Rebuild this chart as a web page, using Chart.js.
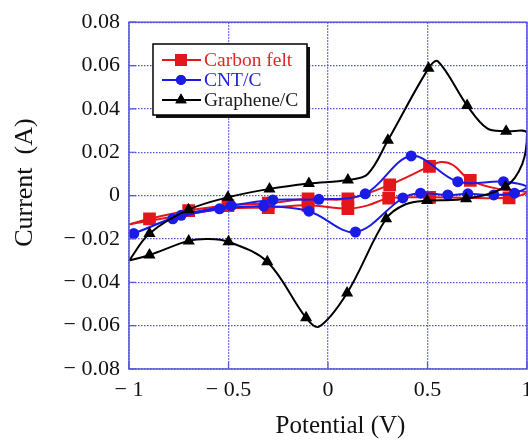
<!DOCTYPE html>
<html lang="en">
<head>
  <meta charset="UTF-8" />
  <title>CV curves</title>
  <script src="https://cdn.jsdelivr.net/npm/chart.js"></script>
  <style>
    html, body {
      margin: 0;
      padding: 0;
      background: #fff;
      overflow: hidden;
    }
    #wrap {
      width: 560px;
      height: 441px;
    }
  </style>
</head>
<body>
  <div id="wrap"><canvas id="cv" width="560" height="441"></canvas></div>

  <script>
    // axis ticks
    const xTicks = [-1, -0.5, 0, 0.5, 1];
    const yTicks = [-0.08, -0.06, -0.04, -0.02, 0, 0.02, 0.04, 0.06, 0.08];

    const seriesNames = ['Carbon felt', 'CNT/C', 'Graphene/C'];

    // Carbon felt loop (1 = marker drawn)
    const feltX = [-1.0, -0.897, -0.70, -0.503, -0.30, -0.10, 0.10, 0.31, 0.51, 0.57, 0.63, 0.715, 0.86, 1.0,
                   0.91, 0.51, 0.305, 0.20, 0.10, -0.10, -0.30, -0.50, -0.70, -1.0];
    const feltY = [-0.0133, -0.0107, -0.0069, -0.0046, -0.0035, -0.0015, -0.0015, 0.0050, 0.0135, 0.0155, 0.0140, 0.0070, 0.0030, 0.0015,
                   -0.0010, -0.0008, -0.0012, -0.0045, -0.0060, -0.0045, -0.0055, -0.0060, -0.0085, -0.0133];
    const feltMark = [0, 1, 1, 1, 1, 1, 1, 1, 1, 0, 0, 1, 0, 0,
                      1, 1, 1, 0, 1, 1, 1, 0, 0, 0];

    // CNT/C loop
    const cntX = [-0.976, -0.738, -0.486, -0.277, -0.046, 0.187, 0.418, 0.652, 0.882, 1.0,
                  0.937, 0.833, 0.703, 0.602, 0.465, 0.376, 0.138, -0.096, -0.323, -0.545, -0.78, -0.976];
    const cntY = [-0.0175, -0.0091, -0.0046, -0.0020, -0.0017, 0.0008, 0.0183, 0.0064, 0.0064, 0.0040,
                  0.0011, 0.0003, 0.0008, 0.0003, 0.0011, -0.0011, -0.0168, -0.0072, -0.0049, -0.0061, -0.0107, -0.0175];
    const cntMark = [1, 1, 1, 1, 1, 1, 1, 1, 1, 0,
                     1, 1, 1, 1, 1, 1, 1, 1, 1, 1, 1, 0];

    // Graphene/C loop
    const grapX = [-1.0, -0.897, -0.70, -0.60, -0.50, -0.305, -0.11, -0.046, 0.096, 0.292, 0.39, 0.498, 0.694, 0.892, 0.976, 1.0,
                   0.895, 0.80, 0.699, 0.552, 0.505, 0.301, 0.20, 0.10, -0.096, -0.294, -0.503, -0.701, -0.897, -1.0];
    const grapY = [-0.0300, -0.0274, -0.0209, -0.0200, -0.0213, -0.0305, -0.0564, -0.0605, -0.0449, -0.0107, -0.0040, -0.0023, -0.0015, 0.0041, 0.0145, 0.0290,
                   0.0297, 0.0310, 0.0416, 0.0620, 0.0587, 0.0255, 0.0100, 0.0072, 0.0056, 0.0031, -0.0008, -0.0065, -0.0175, -0.0300];
    const grapMark = [0, 1, 1, 0, 1, 1, 1, 0, 1, 1, 0, 1, 1, 1, 0, 0,
                      1, 0, 1, 0, 1, 1, 0, 1, 1, 1, 1, 1, 1, 0];

    const colors = ['#e3161b', '#1b1be8', '#000000'];
    const textColors = ['#e0262b', '#2424d8', '#1a1a1a'];
    const styles = ['rect', 'circle', 'triangle'];
    const radii = [9, 5.5, 7];

    function toPoints(xs, ys) {
      return xs.map((x, i) => ({ x: x, y: ys[i] }));
    }

    function fmt(v) {
      if (Math.abs(v) < 1e-9) return '0';
      const s = parseFloat(Math.abs(v).toFixed(2)).toString();
      return v < 0 ? '\u2212 ' + s : s;
    }

    const marks = [feltMark, cntMark, grapMark];

    function makeSet(i, xs, ys) {
      return {
        label: seriesNames[i],
        data: toPoints(xs, ys),
        showLine: true,
        borderColor: colors[i],
        backgroundColor: colors[i],
        borderWidth: 2,
        tension: 0.35,
        pointStyle: styles[i],
        pointRadius: ctx => marks[i][ctx.dataIndex] ? radii[i] : 0,
        pointBorderWidth: 0,
        order: 3 - i
      };
    }

    const serif = "'Liberation Serif', 'DejaVu Serif', serif";
    const gridBlue = '#5252dc';

    // solid frame plus small inward ticks
    const framePlugin = {
      id: 'frame',
      afterDatasetsDraw(chart) {
        const { ctx, chartArea: a, scales } = chart;
        ctx.save();
        ctx.strokeStyle = '#5656e0';
        ctx.lineWidth = 1.5;
        ctx.strokeRect(a.left, a.top, a.right - a.left, a.bottom - a.top);
        ctx.lineWidth = 1.2;
        ctx.beginPath();
        xTicks.forEach(v => {
          const px = scales.x.getPixelForValue(v);
          ctx.moveTo(px, a.bottom);
          ctx.lineTo(px, a.bottom - 7);
        });
        yTicks.forEach(v => {
          const py = scales.y.getPixelForValue(v);
          ctx.moveTo(a.left, py);
          ctx.lineTo(a.left + 7, py);
        });
        ctx.stroke();
        ctx.restore();
      },
      afterDraw(chart) {
        // boxed legend with shadow
        const ctx = chart.ctx;
        const bx = 153, by = 44, bw = 154, bh = 71;
        ctx.save();
        ctx.fillStyle = '#111';
        ctx.fillRect(bx + 3, by + 3, bw, bh);
        ctx.fillStyle = '#fff';
        ctx.fillRect(bx, by, bw, bh);
        ctx.strokeStyle = '#000';
        ctx.lineWidth = 1.5;
        ctx.strokeRect(bx, by, bw, bh);
        ctx.font = '19.5px ' + serif;
        ctx.textBaseline = 'middle';
        seriesNames.forEach((name, i) => {
          const y = 60 + i * 20;
          ctx.strokeStyle = colors[i];
          ctx.lineWidth = 2;
          ctx.beginPath();
          ctx.moveTo(162, y);
          ctx.lineTo(201, y);
          ctx.stroke();
          ctx.fillStyle = colors[i];
          Chart.helpers.drawPoint(ctx, { pointStyle: styles[i], radius: radii[i] - 0.5, borderWidth: 0 }, 181, y);
          ctx.fill();
          ctx.fillStyle = textColors[i];
          ctx.fillText(name, 204, y + 1);
        });
        ctx.restore();
      }
    };

    new Chart(document.getElementById('cv'), {
      type: 'scatter',
      data: {
        datasets: [
          makeSet(0, feltX, feltY),
          makeSet(1, cntX, cntY),
          makeSet(2, grapX, grapY)
        ]
      },
      options: {
        responsive: false,
        animation: false,
        layout: { padding: { top: 20, right: 33, left: 0, bottom: 0 } },
        plugins: {
          legend: { display: false },
          tooltip: { enabled: false }
        },
        scales: {
          x: {
            type: 'linear',
            min: -1,
            max: 1,
            afterBuildTicks: s => { s.ticks = xTicks.map(v => ({ value: v })); },
            afterFit: s => { s.height = 72; },
            ticks: {
              padding: 8,
              color: '#111',
              font: { family: serif, size: 22 },
              callback: v => fmt(v),
              maxRotation: 0
            },
            grid: {
              color: gridBlue,
              lineWidth: 1.3,
              drawTicks: false
            },
            border: { display: false, dash: [1.5, 1.5] },
            title: {
              display: true,
              text: '    Potential (V)',
              color: '#111',
              font: { family: serif, size: 25 },
              padding: { top: 0, bottom: 0 }
            }
          },
          y: {
            type: 'linear',
            min: -0.08,
            max: 0.08,
            afterBuildTicks: s => { s.ticks = yTicks.map(v => ({ value: v })); },
            afterFit: s => { s.width = 129; },
            ticks: {
              padding: 9,
              color: '#111',
              font: { family: serif, size: 22 },
              callback: v => fmt(v)
            },
            grid: {
              color: gridBlue,
              lineWidth: 1.3,
              drawTicks: false
            },
            border: { display: false, dash: [1.5, 1.5] },
            title: {
              display: true,
              text: '    Current  (A)',
              color: '#111',
              font: { family: serif, size: 26 },
              padding: { top: 10, bottom: 0 }
            }
          }
        }
      },
      plugins: [framePlugin]
    });
  </script>
</body>
</html>
